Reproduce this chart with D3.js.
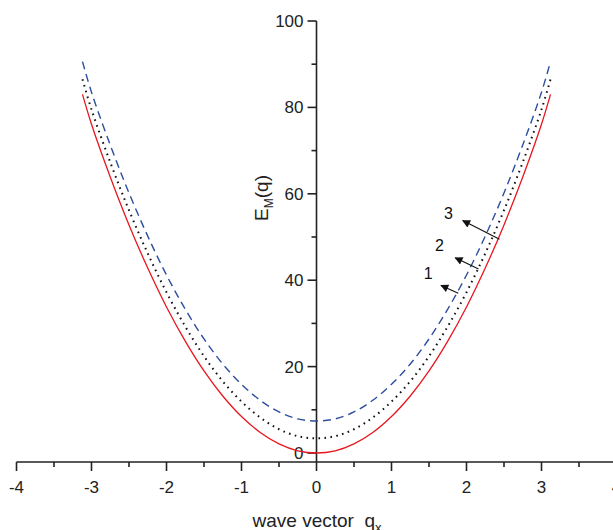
<!DOCTYPE html>
<html><head><meta charset="utf-8">
<script src="https://cdn.jsdelivr.net/npm/d3@7"></script>
<style>html,body{margin:0;padding:0;background:#fff;}svg{display:block;font-family:"Liberation Sans",Arial,sans-serif;}</style>
</head><body>
<svg id="chart" width="613" height="530"></svg>
<script>
// wave vector samples
const qValues = [-3.12,-3,-2.75,-2.5,-2.25,-2,-1.75,-1.5,-1.25,-1,-0.75,-0.5,-0.25,0,0.25,0.5,0.75,1,1.25,1.5,1.75,2,2.25,2.5,2.75,3,3.12];
// curve 1 (red, solid)
const series1 = [83.0,76.1,63.9,52.8,42.8,33.8,25.9,19.0,13.2,8.45,4.75,2.1,0.5,0,0.5,2.1,4.75,8.45,13.2,19.0,25.9,33.8,42.8,52.8,63.9,76.1,83.0];
// curve 2 (black, dotted)
const series2 = [86.5,79.5,67.3,56.2,46.2,37.2,29.3,22.4,16.6,11.9,8.2,5.5,3.9,3.4,3.9,5.5,8.2,11.9,16.6,22.4,29.3,37.2,46.2,56.2,67.3,79.5,86.5];
// curve 3 (blue, dashed)
const series3 = [90.6,83.5,71.3,60.2,50.2,41.2,33.3,26.4,20.6,15.9,12.2,9.5,7.9,7.4,7.9,9.5,12.2,15.9,20.6,26.4,33.3,41.2,50.2,60.2,71.3,83.5,90.6];
// axis ticks
const xTicks = [-4,-3,-2,-1,0,1,2,3,4];
const xMinorTicks = [-3.5,-2.5,-1.5,-0.5,0.5,1.5,2.5,3.5];
const yTicks = [0,20,40,60,80,100];
const yMinorTicks = [10,30,50,70,90];
// annotation arrows: start (on curve) -> end, with labels
const arrowLabels = ["1","2","3"];
const arrowStart = [[1.89,37.0],[2.16,42.6],[2.44,49.5]];
const arrowEnd = [[1.66,38.8],[1.85,45.2],[1.95,53.8]];
const labelPos = [[1.49,41.7],[1.64,48.1],[1.76,55.6]];

const svg = d3.select("#chart");
const x = d3.scaleLinear().domain([-4,4]).range([16.5,616.5]);
const y = d3.scaleLinear().domain([0,100]).range([453,21]);
const axisY = 462;
const axisX = x(0);

// defs: arrowhead
svg.append("defs").append("marker")
  .attr("id","ah").attr("viewBox","0 0 10 10").attr("refX",9).attr("refY",5)
  .attr("markerWidth",12).attr("markerHeight",8).attr("markerUnits","userSpaceOnUse")
  .attr("orient","auto")
  .append("path").attr("d","M0,0 L10,5 L0,10 Z").attr("fill","#111");

// x axis
const gx = svg.append("g").attr("stroke","#222").attr("stroke-width",1.6);
gx.append("line").attr("x1",x(-4)).attr("x2",613).attr("y1",axisY).attr("y2",axisY);
gx.selectAll(".xt").data(xTicks).enter().append("line")
  .attr("x1",d=>x(d)).attr("x2",d=>x(d)).attr("y1",axisY).attr("y2",axisY+9);
gx.selectAll(".xm").data(xMinorTicks).enter().append("line")
  .attr("x1",d=>x(d)).attr("x2",d=>x(d)).attr("y1",axisY).attr("y2",axisY+5);
svg.selectAll(".xl").data(xTicks).enter().append("text")
  .attr("x",d=>x(d)).attr("y",493).attr("text-anchor","middle")
  .attr("font-size",17).attr("fill","#222").text(d=>d);

// y axis
const gy = svg.append("g").attr("stroke","#222").attr("stroke-width",1.6);
gy.append("line").attr("x1",axisX).attr("x2",axisX).attr("y1",y(100)).attr("y2",axisY);
gy.selectAll(".yt").data(yTicks).enter().append("line")
  .attr("x1",axisX-9).attr("x2",axisX).attr("y1",d=>y(d)).attr("y2",d=>y(d));
gy.selectAll(".ym").data(yMinorTicks).enter().append("line")
  .attr("x1",axisX-5).attr("x2",axisX).attr("y1",d=>y(d)).attr("y2",d=>y(d));
svg.selectAll(".yl").data(yTicks).enter().append("text")
  .attr("x",axisX-13).attr("y",d=>y(d)+6).attr("text-anchor","end")
  .attr("font-size",17).attr("fill","#222").text(d=>d);

// curves
const line = d3.line().x(d=>x(d[0])).y(d=>y(d[1])).curve(d3.curveCatmullRom);
const mk = s => qValues.map((q,i)=>[q,s[i]]);
svg.append("path").attr("d",line(mk(series1))).attr("fill","none")
  .attr("stroke","#e8161e").attr("stroke-width",1.3);
svg.append("path").attr("d",line(mk(series2))).attr("fill","none")
  .attr("stroke","#111").attr("stroke-width",2).attr("stroke-dasharray","1.6,4.4");
svg.append("path").attr("d",line(mk(series3))).attr("fill","none")
  .attr("stroke","#2d4e9e").attr("stroke-width",1.4).attr("stroke-dasharray","8,5");

// arrows
svg.selectAll(".ar").data(arrowStart).enter().append("line")
  .attr("x1",d=>x(d[0])).attr("y1",d=>y(d[1]))
  .attr("x2",(d,i)=>x(arrowEnd[i][0])).attr("y2",(d,i)=>y(arrowEnd[i][1]))
  .attr("stroke","#111").attr("stroke-width",1.1).attr("marker-end","url(#ah)");
svg.selectAll(".al").data(labelPos).enter().append("text")
  .attr("x",d=>x(d[0])).attr("y",d=>y(d[1])+6).attr("text-anchor","middle")
  .attr("font-size",16).attr("fill","#111").text((d,i)=>arrowLabels[i]);

// axis titles
const yt = svg.append("text").attr("transform","translate(268,198) rotate(-90)")
  .attr("text-anchor","middle").attr("font-size",19).attr("fill","#222");
yt.append("tspan").text("E");
yt.append("tspan").attr("font-size",12).attr("dy",5).text("M");
yt.append("tspan").attr("dy",-5).text("(q)");

const xt = svg.append("text").attr("x",317).attr("y",527)
  .attr("text-anchor","middle").attr("font-size",19).attr("fill","#222");
xt.append("tspan").text("wave vector\u00a0 q");
xt.append("tspan").attr("font-size",13).attr("dy",5).text("x");
</script>
</body></html>
